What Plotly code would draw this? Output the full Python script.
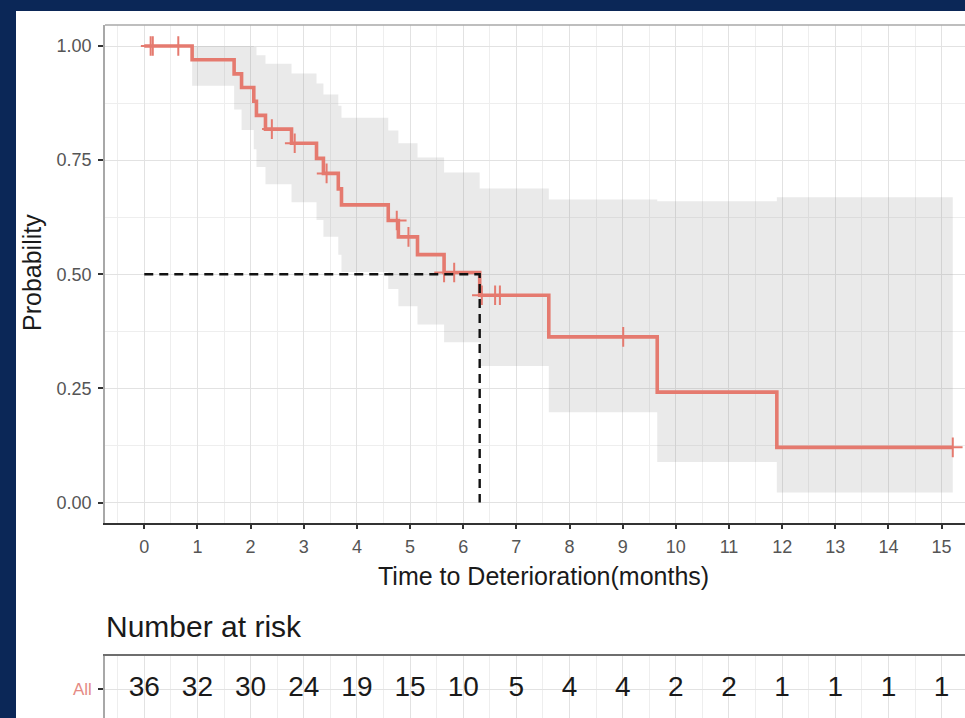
import plotly.graph_objects as go

# Kaplan-Meier estimate: step start times (months) and survival probability
step_times = [0.0, 0.90, 1.69, 1.83, 2.06, 2.11, 2.28, 2.77, 3.24, 3.37, 3.65, 3.71,
              4.59, 4.78, 5.14, 5.64, 6.31, 7.61, 9.65, 11.90]
step_surv = [1.000, 0.970, 0.939, 0.909, 0.879, 0.848, 0.818, 0.787, 0.754, 0.721, 0.687, 0.652,
             0.618, 0.582, 0.543, 0.504, 0.454, 0.363, 0.242, 0.121]
ci_upper = [1.000, 1.000, 1.000, 1.000, 0.998, 0.980, 0.961, 0.940, 0.918, 0.894, 0.869, 0.843,
            0.815, 0.787, 0.756, 0.723, 0.688, 0.664, 0.660, 0.669]
ci_lower = [1.000, 0.913, 0.861, 0.816, 0.774, 0.735, 0.697, 0.658, 0.619, 0.582, 0.543, 0.505,
            0.468, 0.430, 0.390, 0.351, 0.299, 0.198, 0.089, 0.022]
end_time = 15.21

# censored observations
censor_times = [0.12, 0.16, 0.64, 2.40, 2.83, 3.43, 4.75, 4.97, 5.64, 5.83, 6.35, 6.60, 6.69, 9.01, 15.21]
censor_surv = [1.0, 1.0, 1.0, 0.818, 0.787, 0.721, 0.618, 0.582, 0.504, 0.504, 0.454, 0.454, 0.454, 0.363, 0.121]

# median survival
median_time = 6.31
median_level = 0.5

# number at risk table
risk_times = list(range(16))
risk_counts = [36, 32, 30, 24, 19, 15, 10, 5, 4, 4, 2, 2, 1, 1, 1, 1]
strata_label = "All"

x_ticks = list(range(16))
y_ticks = [0.0, 0.25, 0.5, 0.75, 1.0]
y_tick_labels = ["0.00", "0.25", "0.50", "0.75", "1.00"]

CURVE = "#E57A6F"
NAVY = "#0B2757"
FONT = "Liberation Sans, Arial, sans-serif"
X_RANGE = [-0.739, 15.44]

W, H = 965, 718
ML, MT = 105, 25
plot_h = H - MT


def py(px):
    """pixel row (from top) -> paper y"""
    return (H - px) / plot_h


def px_x(px):
    return (px - ML) / (W - ML)


t_ext = step_times + [end_time]
fig = go.Figure()

# confidence band
fig.add_trace(go.Scatter(x=t_ext, y=ci_lower + [ci_lower[-1]], mode="lines",
                         line=dict(width=0, shape="hv"), hoverinfo="skip", showlegend=False))
fig.add_trace(go.Scatter(x=t_ext, y=ci_upper + [ci_upper[-1]], mode="lines",
                         line=dict(width=0, shape="hv"), fill="tonexty",
                         fillcolor="rgba(140,140,140,0.18)", hoverinfo="skip", showlegend=False))

# survival curve
fig.add_trace(go.Scatter(x=t_ext, y=step_surv + [step_surv[-1]], mode="lines",
                         line=dict(color=CURVE, width=3.6, shape="hv"), showlegend=False))

# censor marks
fig.add_trace(go.Scatter(x=censor_times, y=censor_surv, mode="markers",
                         marker=dict(symbol="cross-thin", size=14,
                                     line=dict(color=CURVE, width=2)),
                         showlegend=False))

# median line
fig.add_trace(go.Scatter(x=[0, median_time, median_time], y=[median_level, median_level, 0],
                         mode="lines", line=dict(color="#111111", width=2.4, dash="9px,6px"),
                         showlegend=False))

# risk table
fig.add_trace(go.Scatter(x=risk_times, y=[0] * len(risk_times), mode="text",
                         text=[str(c) for c in risk_counts],
                         textfont=dict(family=FONT, size=28, color="#1a1a1a"),
                         xaxis="x2", yaxis="y2", showlegend=False))

grid_major = "#E2E2E2"
grid_minor = "#EEEEEE"

fig.update_layout(
    width=W, height=H,
    margin=dict(l=ML, r=0, t=MT, b=0),
    paper_bgcolor=NAVY,
    plot_bgcolor="white",
    font=dict(family=FONT),
    xaxis=dict(domain=[0, 1], range=X_RANGE, tickmode="array", tickvals=x_ticks,
               ticktext=[str(t) for t in x_ticks],
               tickfont=dict(size=18, color="#555555"),
               ticks="outside", ticklen=5, tickwidth=1.5, tickcolor="#333333",
               showline=True, linecolor="#333333", linewidth=1.5,
               showgrid=True, gridcolor=grid_major, gridwidth=1.3,
               minor=dict(tickmode="linear", tick0=0.5, dtick=1, showgrid=True,
                          gridcolor=grid_minor, gridwidth=1, ticks=""),
               zeroline=False, anchor="y", ticklabelstandoff=2),
    yaxis=dict(domain=[py(522.7), 1], range=[-0.044, 1.046], tickmode="array",
               tickvals=y_ticks, ticktext=y_tick_labels,
               tickfont=dict(size=18, color="#555555"),
               ticks="outside", ticklen=5, tickwidth=1.5, tickcolor="#333333",
               showline=True, linecolor="#A8A8A8", linewidth=1.5,
               showgrid=True, gridcolor=grid_major, gridwidth=1.3,
               minor=dict(tickmode="linear", tick0=0.125, dtick=0.25, showgrid=True,
                          gridcolor=grid_minor, gridwidth=1, ticks=""),
               zeroline=False, anchor="x", ticklabelstandoff=3),
    xaxis2=dict(domain=[0, 1], range=X_RANGE, tickmode="array", tickvals=x_ticks,
                showticklabels=False, ticks="", side="top",
                showline=True, linecolor="#6E6E6E", linewidth=1.5,
                showgrid=True, gridcolor=grid_major, gridwidth=1.3,
                minor=dict(tickmode="linear", tick0=0.5, dtick=1, showgrid=True,
                           gridcolor=grid_minor, gridwidth=1, ticks=""),
                zeroline=False, anchor="y2"),
    yaxis2=dict(domain=[0, py(656)], range=[-0.92, 1.08], tickmode="array", tickvals=[0],
                ticktext=[strata_label], tickfont=dict(size=17, color="#E58A84"),
                ticks="outside", ticklen=5, tickwidth=1.5, tickcolor="#333333",
                showline=True, linecolor="#A8A8A8", linewidth=1.5,
                showgrid=True, gridcolor=grid_major, gridwidth=1.3,
                zeroline=False, anchor="x2", ticklabelstandoff=3),
    shapes=[
        # white card behind the charts
        dict(type="rect", xref="paper", yref="paper", layer="below",
             x0=px_x(16), x1=1.2, y0=-0.2, y1=py(11),
             fillcolor="white", line=dict(width=0)),
        # top border of the main panel
        dict(type="line", xref="paper", yref="paper", x0=0, x1=1.01, y0=1, y1=1,
             line=dict(color="#A8A8A8", width=1.5)),
    ],
    annotations=[
        dict(text="Probability", xref="paper", yref="paper", x=px_x(32), y=py(273),
             textangle=-90, showarrow=False, xanchor="center", yanchor="middle",
             font=dict(size=25, color="#1a1a1a")),
        dict(text="Time to Deterioration(months)", xref="paper", yref="paper",
             x=px_x(543), y=py(576), showarrow=False, xanchor="center", yanchor="middle",
             font=dict(size=25, color="#1a1a1a")),
        dict(text="Number at risk", xref="paper", yref="paper",
             x=px_x(104), y=py(626), showarrow=False, xanchor="left", yanchor="middle",
             font=dict(size=30, color="#1a1a1a")),
    ],
)

fig.write_html("out.html")
